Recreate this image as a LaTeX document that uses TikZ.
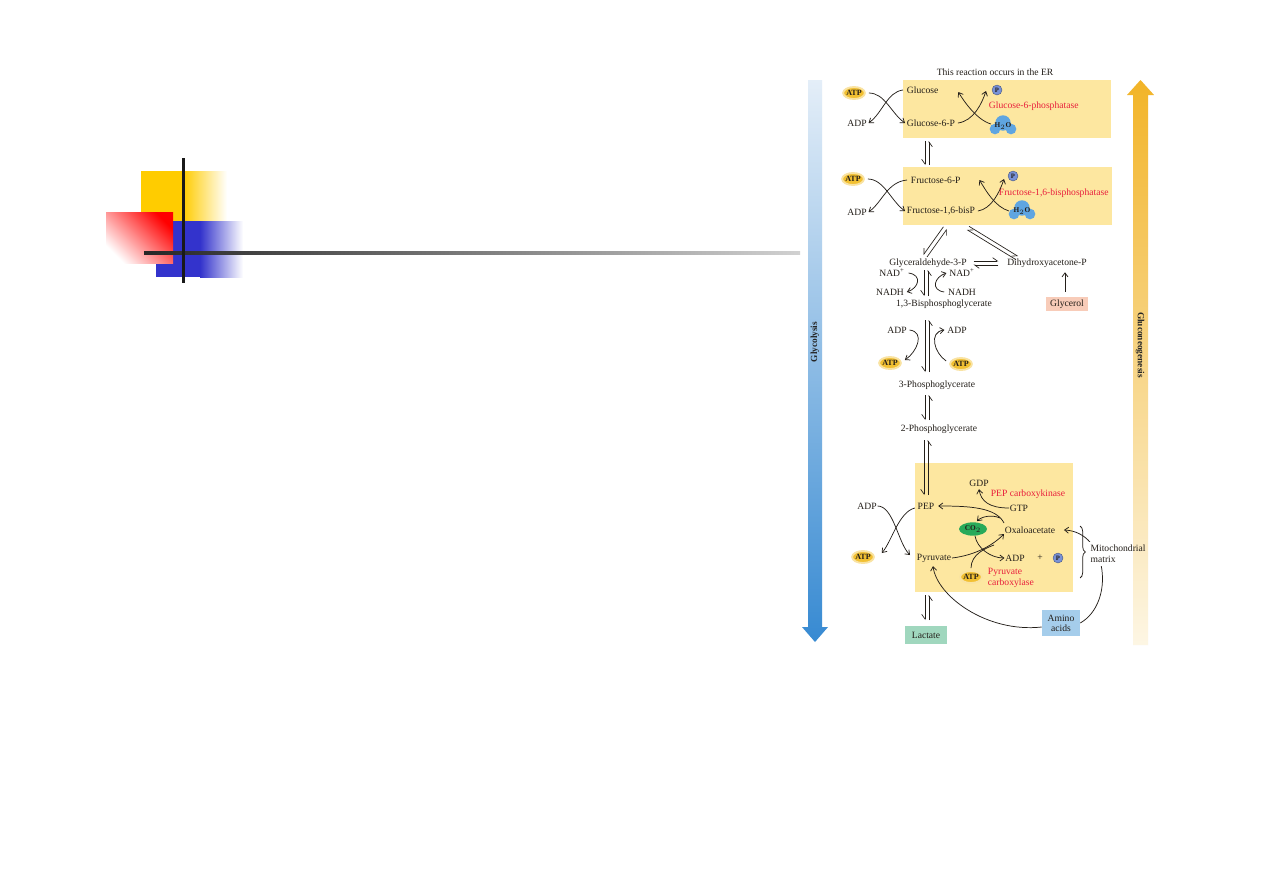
\documentclass[tikz,border=0pt]{standalone}
\usepackage{fontspec}
\setmainfont{Liberation Serif}
\usetikzlibrary{arrows.meta,shapes.geometric,decorations.pathreplacing,calc}
\definecolor{txt}{RGB}{35,30,25}
\definecolor{yel}{RGB}{255,204,0}
\definecolor{blu}{RGB}{51,51,204}
\definecolor{boxy}{RGB}{253,231,160}
\definecolor{atpc}{RGB}{242,192,50}
\definecolor{pblue}{RGB}{120,145,215}
\definecolor{h2oc}{RGB}{95,165,225}
\definecolor{enzred}{RGB}{232,30,60}
\definecolor{co2c}{RGB}{40,170,90}
\definecolor{glycc}{RGB}{248,204,185}
\definecolor{lact}{RGB}{160,215,190}
\definecolor{amc}{RGB}{165,205,235}
\definecolor{glA}{RGB}{228,238,248}
\definecolor{glB}{RGB}{55,138,210}
\definecolor{gnA}{RGB}{242,180,40}
\definecolor{gnB}{RGB}{253,246,228}
\begin{document}
\begin{tikzpicture}[x=0.75pt,y=-0.75pt,
  every node/.style={font=\fontsize{7.2}{8.2}\selectfont, inner sep=0.5pt, text=txt},
  arr/.style={draw=txt, line width=0.55pt, -{Straight Barb[length=3pt,width=4.5pt]}},
  ln/.style={draw=txt, line width=0.55pt},
  hp/.style={draw=txt, line width=0.5pt, -{Straight Barb[harpoon,swap,length=3.5pt,width=5pt]}},
  hpl/.style={draw=txt, line width=0.5pt, -{Straight Barb[harpoon,length=3.5pt,width=5pt]}},
  atp/.style={ellipse, fill=atpc, draw=atpc!45, line width=1.4pt, minimum width=15.5pt, minimum height=9pt, inner sep=0pt, font=\fontsize{6}{6}\selectfont\bfseries},
  pc/.style={circle, fill=pblue, draw=pblue!60!black, line width=0.3pt, minimum size=7.5pt, inner sep=0pt, font=\fontsize{5}{5}\selectfont\bfseries},
  enz/.style={text=enzred},
  h2olbl/.style={font=\fontsize{5.5}{6}\selectfont\bfseries},
  tag/.style={rectangle, inner sep=0pt}]
\useasboundingbox (0,0) rectangle (1263,893);
\fill[white] (0,0) rectangle (1263,893);
% ---- slide decoration ----
\fill[yel] (141,171) rectangle (183,221);
\shade[left color=yel, right color=white] (183,171) rectangle (227,221);
\fill[blu] (156,221) rectangle (200,277);
\shade[left color=blu, right color=white] (200,221) rectangle (243,277);
\shade[left color=white, right color=red, shading angle=135] (106,212) rectangle (173,263);
\shade[left color=black!85, middle color=black!45, right color=black!18] (144,251.5) rectangle (800,254.5);
\fill[black!90] (181.5,158) rectangle (184.5,283);
% ---- big arrows ----
\shade[top color=glA, bottom color=glB] (808,80) -- (822,80) -- (822,627) -- (828,627) -- (815,642) -- (802,627) -- (808,627) -- cycle;
\shade[top color=gnA, bottom color=gnB] (1133,645) -- (1148,645) -- (1148,95) -- (1154,95) -- (1140.5,80) -- (1127,95) -- (1133,95) -- cycle;
\node[rotate=90, font=\fontsize{7}{7}\selectfont\bfseries, text=black!85] (glyco) at (815,342) {Glycolysis};
\node[rotate=-90, font=\fontsize{7}{7}\selectfont\bfseries, text=black!85] (gneo) at (1140,345) {Gluconeogenesis};
% ---- boxes ----
\fill[boxy] (903,80) rectangle (1111,138);
\fill[boxy] (903,167) rectangle (1112,225);
\fill[boxy] (915,463) rectangle (1073,592);
\node (title) at (995,72) {This reaction occurs in the ER};
% ---- box 1 ----
\node[anchor=west] (glc) at (906,90) {Glucose};
\node[anchor=west] (g6p) at (906,123) {Glucose-6-P};
\node[atp] (atp1) at (854,93) {ATP};
\node (adp1) at (857,123) {ADP};
\node[pc] (p1) at (997,90) {P};
\fill[h2oc] (1003,123) circle (5.8pt) (995,129) circle (4pt) (1011,129) circle (4pt);
\node[h2olbl] (h2o1) at (1003,126) {H$_2$O};
\node[enz, anchor=west] (enz1) at (988,106) {Glucose-6-phosphatase};
\draw[arr] ($(atp1.east)+(3,0)$) .. controls +(16,0) and +(-14,-10) .. ($(g6p.west)+(-1,0)$);
\draw[arr] ($(glc.west)+(-3,0)$) .. controls +(-16,2) and +(14,-10) .. ($(adp1.east)+(1,0)$);
\draw[arr] ($(g6p.east)+(2,0)$) .. controls +(16,-2) and +(-4,12) .. ($(p1)+(-11,1)$);
\draw[arr] ($(h2o1)+(-12,-2)$) .. controls +(-14,-4) and +(6,10) .. ($(glc.east)+(19,2)$);
% equilibrium box1-box2
\coordinate (e1a) at (925,141); \coordinate (e1b) at (925,165);
\coordinate (e1c) at (929,165); \coordinate (e1d) at (929,141);
\draw[hp] (e1a) -- (e1b);
\draw[hp] (e1c) -- (e1d);
% ---- box 2 ----
\node[anchor=west] (f6p) at (910,180) {Fructose-6-P};
\node[anchor=west] (fbp) at (906,211) {Fructose-1,6-bisP};
\node[atp] (atp2) at (853,179) {ATP};
\node (adp2) at (857,212) {ADP};
\node[pc] (p2) at (1013,176) {P};
\fill[h2oc] (1022,208) circle (5.8pt) (1014,214) circle (4pt) (1030,214) circle (4pt);
\node[h2olbl] (h2o2) at (1022,211) {H$_2$O};
\node[enz, anchor=west] (enz2) at (998,193) {Fructose-1,6-bisphosphatase};
\draw[arr] ($(atp2.east)+(3,0)$) .. controls +(16,0) and +(-14,-10) .. ($(fbp.west)+(-1,0)$);
\draw[arr] ($(f6p.west)+(-3,0)$) .. controls +(-20,2) and +(14,-10) .. ($(adp2.east)+(1,0)$);
\draw[arr] ($(fbp.east)+(2,0)$) .. controls +(14,-2) and +(-4,12) .. ($(p2)+(-9,3)$);
\draw[arr] ($(h2o2)+(-13,0)$) .. controls +(-14,-4) and +(6,10) .. ($(f6p.east)+(18,0)$);
% ---- triose region ----
\node (g3p) at (928,263) {Glyceraldehyde-3-P};
\node (dhap) at (1047,263) {Dihydroxyacetone-P};
\coordinate (d1a) at (943.4,226.8); \coordinate (d1b) at (923.4,254.8);
\coordinate (d1c) at (927,257); \coordinate (d1d) at (947,229);
\draw[hp] (d1a) -- (d1b);
\draw[hp] (d1c) -- (d1d);
\coordinate (d2a) at (969,226.3); \coordinate (d2b) at (1018,256.3);
\coordinate (d2c) at (1016,259.7); \coordinate (d2d) at (967,229.7);
\draw[hp] (d2a) -- (d2b);
\draw[hp] (d2c) -- (d2d);
\draw[hpl] ($(g3p.east)+(6,-2)$) -- ($(dhap.west)+(-8,-2)$);
\draw[hpl] ($(dhap.west)+(-8,2)$) -- ($(g3p.east)+(6,2)$);
\node[tag, fill=glycc, minimum width=31.5pt, minimum height=10.5pt] (glycbox) at (1067,304) {Glycerol};
\draw[arr] ($(glycbox.north)+(-2,-5)$) -- ($(dhap.south)+(18,4)$);
\node (nad1) at (892,273) {NAD\textsuperscript{+}};
\node (nad2) at (962,273) {NAD\textsuperscript{+}};
\node (nadh1) at (890,292) {NADH};
\node (nadh2) at (962,292) {NADH};
\draw[arr] ($(nad1.east)+(3,0)$) .. controls +(14,2) and +(12,-4) .. ($(nadh1.east)+(2,0)$);
\draw[arr] ($(nadh2.west)+(-3,0)$) .. controls +(-14,-2) and +(-12,4) .. ($(nad2.west)+(-2,0)$);
\coordinate (e2a) at (924,270); \coordinate (e2b) at (924,296);
\coordinate (e2c) at (928,296); \coordinate (e2d) at (928,270);
\draw[hp] (e2a) -- (e2b);
\draw[hp] (e2c) -- (e2d);
\node (bpg) at (944,304) {1,3-Bisphosphoglycerate};
% ---- phosphoglycerates ----
\coordinate (e3a) at (925,320); \coordinate (e3b) at (925,372);
\coordinate (e3c) at (929,372); \coordinate (e3d) at (929,320);
\draw[hp] (e3a) -- (e3b);
\draw[hp] (e3c) -- (e3d);
\node (adp3) at (897,330) {ADP};
\node (adp4) at (957,330) {ADP};
\node[atp] (atp3) at (890,363) {ATP};
\node[atp] (atp4) at (961,364) {ATP};
\draw[arr] ($(adp3.east)+(2,0)$) .. controls +(16,2) and +(12,-8) .. ($(atp3.east)+(3,-3)$);
\draw[arr] ($(atp4.west)+(-3,-3)$) .. controls +(-12,-8) and +(-16,2) .. ($(adp4.west)+(-2,0)$);
\node (pg3) at (937,385) {3-Phosphoglycerate};
\coordinate (e4a) at (925,395); \coordinate (e4b) at (925,420);
\coordinate (e4c) at (929,420); \coordinate (e4d) at (929,395);
\draw[hp] (e4a) -- (e4b);
\draw[hp] (e4c) -- (e4d);
\node (pg2) at (939,429) {2-Phosphoglycerate};
\coordinate (e5a) at (924,440); \coordinate (e5b) at (924,495);
\coordinate (e5c) at (928,495); \coordinate (e5d) at (928,440);
\draw[hp] (e5a) -- (e5b);
\draw[hp] (e5c) -- (e5d);
% ---- box 3 ----
\node (pep) at (926,506) {PEP};
\node (gdp) at (979,483) {GDP};
\node[enz] (enz3) at (1028,494) {PEP carboxykinase};
\node (gtp) at (1019,508) {GTP};
\node[ellipse, fill=co2c, minimum width=21pt, minimum height=10pt, inner sep=0pt, font=\fontsize{5.5}{6}\selectfont\bfseries] (co2) at (973,529) {CO$_2$};
\node (oaa) at (1030,530) {Oxaloacetate};
\node (pyr) at (934,558) {Pyruvate};
\node (adp5) at (1015,558) {ADP};
\node (plus) at (1040,558) {+};
\node[pc] (p3) at (1058,558) {P};
\node[atp] (atp5) at (971,577) {ATP};
\node[enz, anchor=west, align=left] (enz4) at (987,578) {Pyruvate\\carboxylase};
\node (adp6) at (867,506) {ADP};
\node[atp] (atp6) at (863,557) {ATP};
\draw[arr] ($(oaa.west)+(0,-7)$) .. controls +(-8,-16) and +(30,0) .. ($(pep.east)+(3,0)$);
\draw[arr] (gtp.west) .. controls +(-20,0) and +(2,12) .. ($(gdp.south)+(0,2)$);
\draw[arr] ($(oaa.west)+(-4,-12)$) .. controls +(-9,-4) and +(4,-4) .. ($(co2.north)+(4,-1)$);
\draw[arr] (pyr.east) .. controls +(25,-3) and +(-10,10) .. ($(oaa.west)+(0,4)$);
\draw[arr] ($(co2.south)+(2,0)$) .. controls +(2,12) and +(-14,0) .. (adp5.west);
\draw[ln] ($(atp5.north)+(0,-2)$) .. controls +(0,-14) and +(-8,3) .. ($(oaa.west)+(-10,15)$);
\draw[arr] (adp6.east) .. controls +(16,0) and +(-12,-12) .. ($(pyr.west)+(-6,-3)$);
\draw[arr] ($(pep.west)+(-2,2)$) .. controls +(-16,4) and +(10,-12) .. ($(atp6.east)+(7,-4)$);
% ---- lactate, amino acids ----
\coordinate (e6a) at (925,595); \coordinate (e6b) at (925,620);
\coordinate (e6c) at (929,620); \coordinate (e6d) at (929,595);
\draw[hp] (e6a) -- (e6b);
\draw[hp] (e6c) -- (e6d);
\node[tag, fill=lact, minimum width=31pt, minimum height=13.5pt] (lac) at (926,635) {Lactate};
\node[tag, fill=amc, minimum width=28.5pt, minimum height=20pt, align=center, font=\fontsize{7.2}{7.6}\selectfont] (amino) at (1061,623) {Amino\\acids};
\draw[arr] ($(amino.west)+(0,4)$) .. controls +(-55,6) and +(4,30) .. ($(pyr.south)+(-1,3)$);
\draw[arr] (amino.east) .. controls +(35,-20) and +(44,2) .. ($(oaa.east)+(8,0)$);
\draw[ln, decorate, decoration={brace, amplitude=4pt}] (1080,526) -- (1080,578);
\fill[white] (1089,542) rectangle (1120,566);
\node[anchor=west, align=left, inner sep=1pt] (mito) at (1089,554) {Mitochondrial\\matrix};
\end{tikzpicture}
\end{document}
